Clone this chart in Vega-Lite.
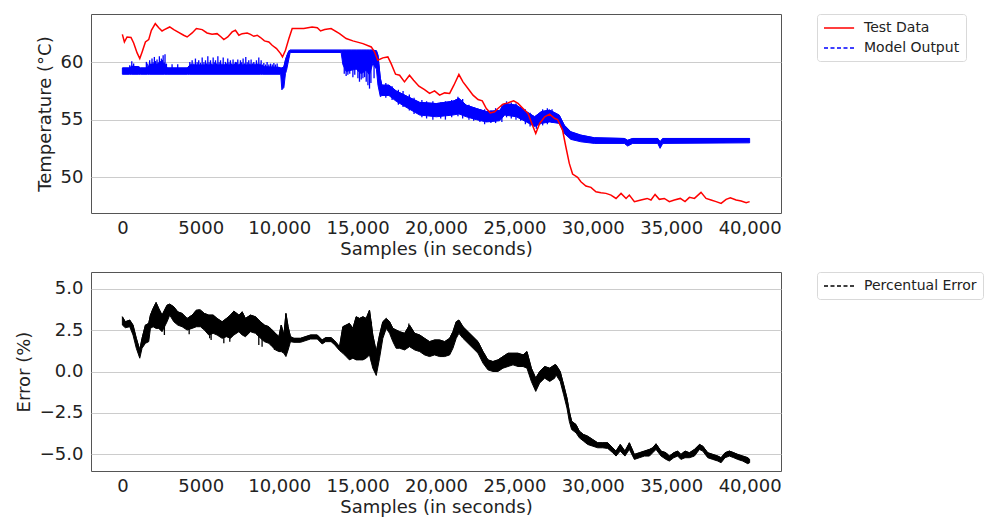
{
  "$schema": "https://vega.github.io/schema/vega-lite/v6.json",
  "padding": {"left": 14, "top": 13, "right": 5, "bottom": 5},
  "background": "white",
  "spacing": 12,
  "config": {
    "font": "DejaVu Sans",
    "view": {"stroke": "#555555", "strokeWidth": 1},
    "axis": {"domain": false, "ticks": false, "labelFontSize": 18, "titleFontSize": 18, "titleFontWeight": "normal", "labelColor": "#222222", "titleColor": "#222222", "labelFont": "DejaVu Sans", "titleFont": "DejaVu Sans"},
    "axisX": {"grid": false, "labelPadding": 6, "titlePadding": 3},
    "axisY": {"gridColor": "#cccccc", "gridWidth": 1, "labelPadding": 8, "titlePadding": 6},
    "legend": {"orient": "right", "offset": 36, "padding": 6, "strokeColor": "#d9d9d9", "fillColor": "white", "cornerRadius": 3, "labelFont": "DejaVu Sans", "labelFontSize": 14, "labelColor": "#222222", "symbolType": "M-1,0H3.3", "symbolSize": 196, "symbolStrokeWidth": 1.5, "rowPadding": 5, "labelOffset": 25, "title": null}
  },
  "datasets": {
    "test": [
      {"s":0,"t":62.43},{"s":130,"t":61.77},{"s":300,"t":62.2},{"s":550,"t":62.15},{"s":720,"t":61.68},{"s":940,"t":60.81},{"s":1110,"t":60.32},{"s":1260,"t":60.9},{"s":1470,"t":61.77},{"s":1680,"t":61.97},{"s":1850,"t":62.78},{"s":2100,"t":63.36},{"s":2320,"t":63.01},{"s":2530,"t":62.72},{"s":2680,"t":62.84},{"s":3020,"t":63.07},{"s":3280,"t":62.84},{"s":3530,"t":62.64},{"s":3910,"t":62.35},{"s":4130,"t":62.2},{"s":4450,"t":62.55},{"s":4720,"t":62.93},{"s":5090,"t":62.84},{"s":5400,"t":62.55},{"s":5720,"t":62.43},{"s":6040,"t":62.49},{"s":6300,"t":62.2},{"s":6470,"t":61.97},{"s":6720,"t":62.2},{"s":7000,"t":62.64},{"s":7210,"t":62.78},{"s":7430,"t":62.35},{"s":7640,"t":62.49},{"s":7960,"t":62.55},{"s":8170,"t":62.43},{"s":8380,"t":62.26},{"s":8600,"t":62.35},{"s":8810,"t":62.15},{"s":9060,"t":61.86},{"s":9340,"t":61.77},{"s":9550,"t":61.48},{"s":9830,"t":61.19},{"s":10090,"t":60.75},{"s":10210,"t":60.46},{"s":10400,"t":61.04},{"s":10620,"t":62.06},{"s":10830,"t":62.93},{"s":11040,"t":62.93},{"s":11570,"t":62.93},{"s":12100,"t":63.07},{"s":12430,"t":63.01},{"s":12640,"t":62.72},{"s":12900,"t":62.85},{"s":13310,"t":62.93},{"s":13850,"t":62.49},{"s":14270,"t":62.06},{"s":14700,"t":61.86},{"s":15340,"t":61.62},{"s":15870,"t":61.33},{"s":16080,"t":60.9},{"s":16290,"t":60.17},{"s":16610,"t":60.38},{"s":16930,"t":60.46},{"s":17140,"t":59.88},{"s":17420,"t":58.96},{"s":17680,"t":58.87},{"s":17990,"t":58.29},{"s":18310,"t":58.87},{"s":18570,"t":58.43},{"s":18910,"t":57.91},{"s":19270,"t":57.62},{"s":19590,"t":57.28},{"s":19910,"t":57.51},{"s":20230,"t":57.13},{"s":20550,"t":57.33},{"s":20870,"t":57.28},{"s":21140,"t":58.0},{"s":21460,"t":58.93},{"s":21720,"t":58.29},{"s":22040,"t":57.71},{"s":22360,"t":57.13},{"s":22680,"t":56.75},{"s":22950,"t":56.64},{"s":23210,"t":55.97},{"s":23460,"t":55.59},{"s":23740,"t":55.68},{"s":23950,"t":55.97},{"s":24270,"t":56.35},{"s":24590,"t":56.46},{"s":24950,"t":56.64},{"s":25230,"t":56.41},{"s":25550,"t":55.97},{"s":25870,"t":55.54},{"s":26190,"t":54.38},{"s":26360,"t":53.8},{"s":26610,"t":54.67},{"s":26930,"t":55.25},{"s":27250,"t":55.48},{"s":27570,"t":55.1},{"s":27750,"t":55.01},{"s":28070,"t":54.09},{"s":28280,"t":52.64},{"s":28500,"t":51.19},{"s":28710,"t":50.26},{"s":29030,"t":49.97},{"s":29240,"t":49.59},{"s":29560,"t":49.22},{"s":29880,"t":49.1},{"s":30200,"t":48.72},{"s":30520,"t":48.64},{"s":30840,"t":48.58},{"s":31160,"t":48.43},{"s":31480,"t":48.14},{"s":31800,"t":48.58},{"s":32120,"t":48.14},{"s":32330,"t":48.43},{"s":32650,"t":47.86},{"s":33070,"t":48.0},{"s":33460,"t":48.14},{"s":33710,"t":48.0},{"s":33970,"t":48.49},{"s":34240,"t":48.06},{"s":34560,"t":48.14},{"s":34880,"t":47.86},{"s":35200,"t":48.0},{"s":35580,"t":48.14},{"s":35880,"t":47.86},{"s":36160,"t":48.23},{"s":36480,"t":48.14},{"s":36900,"t":48.67},{"s":37220,"t":48.14},{"s":37540,"t":48.0},{"s":37860,"t":47.86},{"s":38180,"t":47.71},{"s":38500,"t":48.06},{"s":38770,"t":48.2},{"s":39140,"t":48.0},{"s":39460,"t":47.91},{"s":39780,"t":47.77},{"s":40000,"t":47.86}
    ],
    "model": [
      {"s":0,"lo":58.95,"hi":59.5},{"s":450,"lo":58.95,"hi":59.5},{"s":600,"lo":58.95,"hi":59.65},{"s":1050,"lo":58.95,"hi":59.6},{"s":1150,"lo":58.95,"hi":59.5},{"s":1600,"lo":58.95,"hi":59.5},{"s":1750,"lo":58.95,"hi":59.8},{"s":2700,"lo":58.95,"hi":59.85},{"s":2850,"lo":58.95,"hi":59.5},{"s":4150,"lo":58.95,"hi":59.5},{"s":4300,"lo":58.95,"hi":59.75},{"s":8800,"lo":58.95,"hi":59.75},{"s":8950,"lo":58.95,"hi":59.6},{"s":10000,"lo":58.95,"hi":59.55},{"s":10100,"lo":58.9,"hi":59.5},{"s":10170,"lo":57.6,"hi":59.5},{"s":10300,"lo":57.8,"hi":59.6},{"s":10400,"lo":59.0,"hi":60.2},{"s":10470,"lo":59.3,"hi":60.5},{"s":10620,"lo":60.3,"hi":61.0},{"s":10700,"lo":60.85,"hi":61.05},{"s":13950,"lo":60.85,"hi":61.05},{"s":14060,"lo":59.8,"hi":61.05},{"s":14270,"lo":59.2,"hi":61.05},{"s":14590,"lo":59.3,"hi":61.05},{"s":14910,"lo":59.4,"hi":61.05},{"s":15230,"lo":59.0,"hi":61.05},{"s":15550,"lo":59.3,"hi":61.05},{"s":15760,"lo":58.9,"hi":61.05},{"s":15970,"lo":59.9,"hi":61.05},{"s":16200,"lo":59.4,"hi":61.0},{"s":16300,"lo":58.0,"hi":60.6},{"s":16450,"lo":57.0,"hi":58.6},{"s":16550,"lo":57.1,"hi":58.0},{"s":17000,"lo":57.1,"hi":58.0},{"s":17460,"lo":56.6,"hi":57.5},{"s":18200,"lo":56.0,"hi":57.0},{"s":18960,"lo":55.4,"hi":56.5},{"s":20020,"lo":55.25,"hi":56.4},{"s":21080,"lo":55.4,"hi":56.6},{"s":21460,"lo":55.5,"hi":56.85},{"s":21930,"lo":55.25,"hi":56.26},{"s":22570,"lo":55.0,"hi":55.97},{"s":23210,"lo":54.8,"hi":55.7},{"s":24060,"lo":54.9,"hi":55.8},{"s":24380,"lo":55.4,"hi":56.4},{"s":25120,"lo":55.25,"hi":56.26},{"s":25760,"lo":54.8,"hi":55.7},{"s":26290,"lo":54.4,"hi":55.25},{"s":26720,"lo":54.67,"hi":55.7},{"s":27250,"lo":54.8,"hi":55.83},{"s":27860,"lo":54.67,"hi":55.39},{"s":28180,"lo":53.8,"hi":54.52},{"s":28600,"lo":53.28,"hi":53.94},{"s":29240,"lo":53.07,"hi":53.65},{"s":30100,"lo":52.93,"hi":53.42},{"s":32010,"lo":52.93,"hi":53.36},{"s":32220,"lo":52.7,"hi":53.2},{"s":32540,"lo":52.93,"hi":53.36},{"s":34140,"lo":52.93,"hi":53.36},{"s":34290,"lo":52.5,"hi":53.07},{"s":34460,"lo":52.93,"hi":53.36},{"s":40000,"lo":52.98,"hi":53.36}
    ],
    "modelSpikes": [
      {"s":470,"lo":59.3,"hi":59.74},{"s":600,"lo":59.3,"hi":60.09},{"s":720,"lo":59.3,"hi":59.88},{"s":1530,"lo":59.3,"hi":60.03},{"s":1620,"lo":59.3,"hi":59.9},{"s":1740,"lo":59.3,"hi":60.17},{"s":1810,"lo":59.3,"hi":59.9},{"s":1890,"lo":59.3,"hi":60.32},{"s":1960,"lo":59.3,"hi":60.0},{"s":2040,"lo":59.3,"hi":60.46},{"s":2120,"lo":59.3,"hi":60.1},{"s":2210,"lo":59.3,"hi":60.23},{"s":2290,"lo":59.3,"hi":60.0},{"s":2360,"lo":59.3,"hi":60.52},{"s":2430,"lo":59.3,"hi":60.1},{"s":2490,"lo":59.3,"hi":60.32},{"s":2550,"lo":59.3,"hi":60.2},{"s":2600,"lo":59.3,"hi":60.61},{"s":2660,"lo":59.3,"hi":60.0},{"s":2720,"lo":59.3,"hi":60.7},{"s":2810,"lo":59.3,"hi":59.88},{"s":3170,"lo":59.3,"hi":59.83},{"s":3530,"lo":59.3,"hi":59.83},{"s":4300,"lo":59.3,"hi":60.03},{"s":4380,"lo":59.3,"hi":59.9},{"s":4450,"lo":59.3,"hi":60.17},{"s":4560,"lo":59.3,"hi":59.9},{"s":4660,"lo":59.3,"hi":60.32},{"s":4770,"lo":59.3,"hi":60.0},{"s":4870,"lo":59.3,"hi":60.17},{"s":4980,"lo":59.3,"hi":59.95},{"s":5090,"lo":59.3,"hi":60.41},{"s":5200,"lo":59.3,"hi":60.0},{"s":5300,"lo":59.3,"hi":60.17},{"s":5370,"lo":59.3,"hi":59.9},{"s":5450,"lo":59.3,"hi":60.52},{"s":5530,"lo":59.3,"hi":60.0},{"s":5620,"lo":59.3,"hi":60.17},{"s":5700,"lo":59.3,"hi":59.9},{"s":5790,"lo":59.3,"hi":60.41},{"s":5860,"lo":59.3,"hi":60.0},{"s":5940,"lo":59.3,"hi":60.17},{"s":6010,"lo":59.3,"hi":59.9},{"s":6090,"lo":59.3,"hi":60.52},{"s":6170,"lo":59.3,"hi":60.0},{"s":6260,"lo":59.3,"hi":60.17},{"s":6350,"lo":59.3,"hi":59.9},{"s":6430,"lo":59.3,"hi":60.41},{"s":6500,"lo":59.3,"hi":59.8},{"s":6570,"lo":59.3,"hi":60.03},{"s":6640,"lo":59.3,"hi":59.9},{"s":6720,"lo":59.3,"hi":60.32},{"s":6800,"lo":59.3,"hi":60.0},{"s":6890,"lo":59.3,"hi":60.17},{"s":6970,"lo":59.3,"hi":59.9},{"s":7060,"lo":59.3,"hi":60.23},{"s":7140,"lo":59.3,"hi":59.9},{"s":7210,"lo":59.3,"hi":60.03},{"s":7290,"lo":59.3,"hi":60.0},{"s":7360,"lo":59.3,"hi":60.23},{"s":7450,"lo":59.3,"hi":59.9},{"s":7530,"lo":59.3,"hi":60.17},{"s":7610,"lo":59.3,"hi":60.0},{"s":7700,"lo":59.3,"hi":60.32},{"s":7790,"lo":59.3,"hi":59.9},{"s":7870,"lo":59.3,"hi":60.46},{"s":7960,"lo":59.3,"hi":60.0},{"s":8060,"lo":59.3,"hi":60.17},{"s":8130,"lo":59.3,"hi":59.9},{"s":8210,"lo":59.3,"hi":60.23},{"s":8300,"lo":59.3,"hi":59.9},{"s":8380,"lo":59.3,"hi":60.03},{"s":8460,"lo":59.3,"hi":59.9},{"s":8550,"lo":59.3,"hi":60.17},{"s":8630,"lo":59.3,"hi":59.9},{"s":8700,"lo":59.3,"hi":60.41},{"s":8780,"lo":59.3,"hi":59.9},{"s":8850,"lo":59.3,"hi":60.17},{"s":8940,"lo":59.3,"hi":59.8},{"s":9020,"lo":59.3,"hi":59.94},{"s":9130,"lo":59.3,"hi":59.8},{"s":9230,"lo":59.3,"hi":60.03},{"s":9340,"lo":59.3,"hi":59.8},{"s":9450,"lo":59.3,"hi":59.88},{"s":9560,"lo":59.3,"hi":59.8},{"s":9660,"lo":59.3,"hi":59.94},{"s":9760,"lo":59.3,"hi":59.8},{"s":9870,"lo":59.3,"hi":59.88},
      {"s":14150,"lo":59.0,"hi":61.0},{"s":14270,"lo":58.8,"hi":61.0},{"s":14380,"lo":58.9,"hi":61.0},{"s":14500,"lo":59.0,"hi":61.0},{"s":14700,"lo":58.7,"hi":61.0},{"s":14820,"lo":58.9,"hi":61.0},{"s":15020,"lo":58.6,"hi":61.0},{"s":15120,"lo":58.3,"hi":61.0},{"s":15230,"lo":58.5,"hi":61.0},{"s":15340,"lo":58.6,"hi":61.0},{"s":15450,"lo":58.7,"hi":61.0},{"s":15550,"lo":58.3,"hi":61.0},{"s":15660,"lo":58.0,"hi":61.0},{"s":15760,"lo":57.7,"hi":61.0},{"s":15850,"lo":58.2,"hi":61.0},{"s":16050,"lo":58.6,"hi":61.0},
      {"s":16800,"lo":56.9,"hi":58.2},{"s":17200,"lo":56.7,"hi":57.9},{"s":17600,"lo":56.3,"hi":57.6},{"s":17900,"lo":56.1,"hi":57.5},{"s":18300,"lo":55.8,"hi":57.2},{"s":18600,"lo":55.5,"hi":56.9},{"s":19100,"lo":55.2,"hi":56.7},{"s":19400,"lo":55.1,"hi":56.6},{"s":19800,"lo":55.0,"hi":56.6},{"s":20300,"lo":55.1,"hi":56.5},{"s":20600,"lo":55.0,"hi":56.6},{"s":21000,"lo":55.2,"hi":56.7},{"s":21400,"lo":55.3,"hi":57.0},{"s":21700,"lo":55.1,"hi":56.8},{"s":22100,"lo":55.0,"hi":56.3},{"s":22400,"lo":54.9,"hi":56.1},{"s":22800,"lo":54.8,"hi":55.9},{"s":23100,"lo":54.6,"hi":55.9},{"s":23500,"lo":54.7,"hi":55.8},{"s":23800,"lo":54.7,"hi":56.0},{"s":24200,"lo":54.8,"hi":56.3},{"s":24500,"lo":55.2,"hi":56.6},{"s":24800,"lo":55.1,"hi":56.5},{"s":25100,"lo":55.0,"hi":56.4},{"s":25400,"lo":54.9,"hi":56.1},{"s":25700,"lo":54.6,"hi":55.9},{"s":26000,"lo":54.4,"hi":55.6},{"s":26400,"lo":54.2,"hi":55.3},{"s":26800,"lo":54.5,"hi":55.9},{"s":27100,"lo":54.6,"hi":56.0},{"s":27400,"lo":54.7,"hi":55.9}
    ],
    "err": [
      {"s":0,"lo":2.8,"hi":3.3},{"s":190,"lo":2.64,"hi":3.0},{"s":470,"lo":2.7,"hi":3.1},{"s":680,"lo":2.2,"hi":2.8},{"s":890,"lo":1.4,"hi":2.0},{"s":1110,"lo":0.8,"hi":1.3},{"s":1255,"lo":1.4,"hi":2.0},{"s":1470,"lo":1.7,"hi":2.8},{"s":1680,"lo":1.8,"hi":2.9},{"s":1790,"lo":2.6,"hi":3.4},{"s":1960,"lo":2.7,"hi":3.8},{"s":2150,"lo":2.6,"hi":4.16},{"s":2320,"lo":2.6,"hi":3.8},{"s":2530,"lo":2.4,"hi":3.4},{"s":2850,"lo":3.0,"hi":4.0},{"s":3020,"lo":3.4,"hi":4.06},{"s":3280,"lo":3.0,"hi":3.9},{"s":3530,"lo":2.8,"hi":3.6},{"s":3810,"lo":2.7,"hi":3.5},{"s":4130,"lo":2.5,"hi":3.2},{"s":4450,"lo":2.6,"hi":3.4},{"s":4720,"lo":2.7,"hi":3.7},{"s":4980,"lo":2.7,"hi":3.7},{"s":5230,"lo":2.5,"hi":3.5},{"s":5510,"lo":2.2,"hi":3.4},{"s":5790,"lo":2.3,"hi":3.4},{"s":6040,"lo":2.2,"hi":3.2},{"s":6360,"lo":2.0,"hi":3.0},{"s":6640,"lo":2.1,"hi":3.2},{"s":6890,"lo":2.0,"hi":3.4},{"s":7110,"lo":2.2,"hi":3.64},{"s":7430,"lo":2.4,"hi":3.4},{"s":7640,"lo":2.2,"hi":3.6},{"s":7850,"lo":2.1,"hi":3.2},{"s":8170,"lo":2.4,"hi":3.4},{"s":8490,"lo":2.3,"hi":3.3},{"s":8810,"lo":2.0,"hi":3.0},{"s":9060,"lo":1.8,"hi":2.8},{"s":9340,"lo":1.7,"hi":2.7},{"s":9550,"lo":1.5,"hi":2.5},{"s":9770,"lo":1.3,"hi":2.3},{"s":9980,"lo":1.2,"hi":2.1},{"s":10130,"lo":1.2,"hi":2.8},{"s":10300,"lo":1.1,"hi":2.2},{"s":10430,"lo":0.9,"hi":3.5},{"s":10570,"lo":1.3,"hi":2.7},{"s":10720,"lo":1.8,"hi":2.1},{"s":10940,"lo":1.76,"hi":2.0},{"s":11360,"lo":1.76,"hi":2.0},{"s":12000,"lo":1.96,"hi":2.2},{"s":12430,"lo":1.96,"hi":2.2},{"s":12740,"lo":1.66,"hi":1.9},{"s":12960,"lo":1.8,"hi":2.04},{"s":13310,"lo":1.8,"hi":2.04},{"s":13530,"lo":1.62,"hi":1.86},{"s":13850,"lo":1.26,"hi":1.5},{"s":14060,"lo":1.1,"hi":2.7},{"s":14270,"lo":0.9,"hi":2.8},{"s":14480,"lo":0.7,"hi":2.9},{"s":14700,"lo":0.8,"hi":2.6},{"s":14910,"lo":0.7,"hi":3.3},{"s":15120,"lo":0.7,"hi":3.2},{"s":15340,"lo":0.7,"hi":3.3},{"s":15550,"lo":0.8,"hi":3.2},{"s":15760,"lo":1.0,"hi":3.7},{"s":15970,"lo":0.2,"hi":2.2},{"s":16190,"lo":-0.24,"hi":1.2},{"s":16400,"lo":0.8,"hi":2.2},{"s":16610,"lo":2.0,"hi":3.0},{"s":16830,"lo":2.6,"hi":3.2},{"s":17040,"lo":2.3,"hi":3.0},{"s":17250,"lo":1.8,"hi":2.6},{"s":17460,"lo":1.4,"hi":2.5},{"s":17680,"lo":1.4,"hi":2.4},{"s":18000,"lo":1.3,"hi":2.3},{"s":18310,"lo":1.5,"hi":2.8},{"s":18640,"lo":1.3,"hi":2.3},{"s":18960,"lo":1.2,"hi":2.2},{"s":19270,"lo":1.0,"hi":2.0},{"s":19590,"lo":0.9,"hi":1.8},{"s":19910,"lo":1.0,"hi":1.9},{"s":20230,"lo":0.9,"hi":1.9},{"s":20550,"lo":0.9,"hi":1.8},{"s":20870,"lo":1.0,"hi":2.0},{"s":21080,"lo":1.4,"hi":2.4},{"s":21290,"lo":2.0,"hi":3.0},{"s":21460,"lo":2.3,"hi":3.1},{"s":21720,"lo":2.0,"hi":2.7},{"s":22040,"lo":1.7,"hi":2.4},{"s":22360,"lo":1.4,"hi":2.1},{"s":22680,"lo":1.1,"hi":1.8},{"s":23000,"lo":0.5,"hi":1.2},{"s":23310,"lo":0.1,"hi":0.7},{"s":23630,"lo":0.0,"hi":0.6},{"s":23950,"lo":0.0,"hi":0.7},{"s":24270,"lo":0.2,"hi":0.9},{"s":24590,"lo":0.3,"hi":1.1},{"s":24910,"lo":0.4,"hi":1.1},{"s":25230,"lo":0.3,"hi":1.1},{"s":25550,"lo":0.3,"hi":1.0},{"s":25800,"lo":0.2,"hi":1.2},{"s":26080,"lo":-0.6,"hi":0.2},{"s":26360,"lo":-1.2,"hi":-0.4},{"s":26610,"lo":-0.7,"hi":0.0},{"s":26930,"lo":-0.4,"hi":0.3},{"s":27250,"lo":-0.6,"hi":0.2},{"s":27570,"lo":-0.4,"hi":0.4},{"s":27650,"lo":-0.2,"hi":0.4},{"s":27920,"lo":-0.6,"hi":0.0},{"s":28140,"lo":-1.4,"hi":-0.8},{"s":28350,"lo":-2.2,"hi":-1.6},{"s":28500,"lo":-3.0,"hi":-2.4},{"s":28650,"lo":-3.5,"hi":-3.0},{"s":28930,"lo":-3.7,"hi":-3.2},{"s":29140,"lo":-4.0,"hi":-3.6},{"s":29410,"lo":-4.2,"hi":-3.8},{"s":29670,"lo":-4.4,"hi":-3.9},{"s":29990,"lo":-4.5,"hi":-4.1},{"s":30310,"lo":-4.6,"hi":-4.3},{"s":30630,"lo":-4.6,"hi":-4.3},{"s":30950,"lo":-4.64,"hi":-4.3},{"s":31270,"lo":-4.9,"hi":-4.6},{"s":31480,"lo":-5.1,"hi":-4.8},{"s":31750,"lo":-4.8,"hi":-4.4},{"s":32050,"lo":-5.1,"hi":-4.8},{"s":32330,"lo":-4.7,"hi":-4.3},{"s":32650,"lo":-5.3,"hi":-5.0},{"s":32970,"lo":-5.2,"hi":-4.9},{"s":33290,"lo":-5.1,"hi":-4.8},{"s":33610,"lo":-5.1,"hi":-4.7},{"s":33820,"lo":-4.9,"hi":-4.6},{"s":34030,"lo":-4.7,"hi":-4.36},{"s":34350,"lo":-5.1,"hi":-4.8},{"s":34670,"lo":-5.3,"hi":-4.9},{"s":34880,"lo":-5.4,"hi":-5.1},{"s":35160,"lo":-5.2,"hi":-4.9},{"s":35410,"lo":-5.1,"hi":-4.8},{"s":35620,"lo":-5.3,"hi":-5.0},{"s":35880,"lo":-5.2,"hi":-4.8},{"s":36160,"lo":-5.2,"hi":-4.9},{"s":36480,"lo":-5.1,"hi":-4.7},{"s":36800,"lo":-4.7,"hi":-4.4},{"s":37010,"lo":-4.8,"hi":-4.5},{"s":37330,"lo":-5.2,"hi":-4.9},{"s":37650,"lo":-5.3,"hi":-5.0},{"s":37970,"lo":-5.4,"hi":-5.1},{"s":38180,"lo":-5.5,"hi":-5.2},{"s":38430,"lo":-5.2,"hi":-4.9},{"s":38710,"lo":-5.1,"hi":-4.8},{"s":38990,"lo":-5.2,"hi":-4.9},{"s":39240,"lo":-5.3,"hi":-5.0},{"s":39560,"lo":-5.4,"hi":-5.1},{"s":39880,"lo":-5.56,"hi":-5.2},{"s":40000,"lo":-5.5,"hi":-5.3}
    ],
    "errSpikes": [
      {"s":2680,"lo":2.2,"hi":3.2},{"s":4260,"lo":2.24,"hi":3.0},{"s":4890,"lo":2.8,"hi":3.75},{"s":5570,"lo":2.0,"hi":3.4},{"s":5660,"lo":1.9,"hi":3.0},{"s":6470,"lo":1.7,"hi":2.8},{"s":6850,"lo":1.8,"hi":3.2},{"s":8700,"lo":1.6,"hi":2.9},{"s":8910,"lo":1.5,"hi":2.8},{"s":9700,"lo":1.3,"hi":2.2},{"s":10040,"lo":1.2,"hi":2.0},{"s":18270,"lo":1.6,"hi":2.9},{"s":15880,"lo":0.6,"hi":3.0}
    ]
  },
  "resolve": {"scale": {"color": "independent"}, "legend": {"color": "independent"}},
  "vconcat": [
    {
      "width": 690,
      "height": 199,
      "layer": [
        {
          "data": {"name": "model"},
          "mark": {"type": "area", "color": "#0000ff", "stroke": "#0000ff", "strokeWidth": 1},
          "encoding": {
            "x": {"field": "s", "type": "quantitative", "title": "Samples (in seconds)", "scale": {"domain": [-2000, 42000], "nice": false, "zero": false}, "axis": {"values": [0, 5000, 10000, 15000, 20000, 25000, 30000, 35000, 40000], "labelExpr": "datum.value >= 10000 ? format(datum.value, ',') : format(datum.value, 'd')"}},
            "y": {"field": "lo", "type": "quantitative", "title": "Temperature (°C)", "scale": {"domain": [46.87, 64.2], "nice": false, "zero": false}, "axis": {"values": [50, 55, 60], "format": "d"}},
            "y2": {"field": "hi"}
          }
        },
        {
          "data": {"name": "modelSpikes"},
          "mark": {"type": "rule", "color": "#0000ff", "strokeWidth": 1.3},
          "encoding": {
            "x": {"field": "s", "type": "quantitative"},
            "y": {"field": "lo", "type": "quantitative"},
            "y2": {"field": "hi"}
          }
        },
        {
          "data": {"name": "model"},
          "mark": {"type": "line", "strokeWidth": 1},
          "encoding": {
            "x": {"field": "s", "type": "quantitative"},
            "y": {"field": "hi", "type": "quantitative"},
            "color": {"datum": "Model Output", "scale": {"domain": ["Test Data", "Model Output"], "range": ["#ff0000", "#0000ff"]}, "legend": {"encode": {"symbols": {"update": {"strokeDash": {"signal": "datum.value === 'Model Output' ? [4, 2.5] : [1, 0]"}}}}}}
          }
        },
        {
          "data": {"name": "test"},
          "mark": {"type": "line", "strokeWidth": 1.5},
          "encoding": {
            "x": {"field": "s", "type": "quantitative"},
            "y": {"field": "t", "type": "quantitative"},
            "color": {"datum": "Test Data"}
          }
        }
      ]
    },
    {
      "width": 690,
      "height": 199,
      "layer": [
        {
          "data": {"name": "err"},
          "mark": {"type": "area", "color": "#000000", "stroke": "#000000", "strokeWidth": 1},
          "encoding": {
            "x": {"field": "s", "type": "quantitative", "title": "Samples (in seconds)", "scale": {"domain": [-2000, 42000], "nice": false, "zero": false}, "axis": {"values": [0, 5000, 10000, 15000, 20000, 25000, 30000, 35000, 40000], "labelExpr": "datum.value >= 10000 ? format(datum.value, ',') : format(datum.value, 'd')"}},
            "y": {"field": "lo", "type": "quantitative", "title": "Error (%)", "scale": {"domain": [-6, 6], "nice": false, "zero": false}, "axis": {"values": [-5, -2.5, 0, 2.5, 5], "format": ".1f"}},
            "y2": {"field": "hi"}
          }
        },
        {
          "data": {"name": "errSpikes"},
          "mark": {"type": "rule", "color": "#000000", "strokeWidth": 1.3},
          "encoding": {
            "x": {"field": "s", "type": "quantitative"},
            "y": {"field": "lo", "type": "quantitative"},
            "y2": {"field": "hi"}
          }
        },
        {
          "data": {"name": "err"},
          "mark": {"type": "line", "strokeWidth": 1},
          "encoding": {
            "x": {"field": "s", "type": "quantitative"},
            "y": {"field": "hi", "type": "quantitative"},
            "color": {"datum": "Percentual Error", "scale": {"domain": ["Percentual Error"], "range": ["#000000"]}, "legend": {"encode": {"symbols": {"update": {"strokeDash": {"value": [4, 2.5]}}}}}}
          }
        }
      ]
    }
  ]
}
